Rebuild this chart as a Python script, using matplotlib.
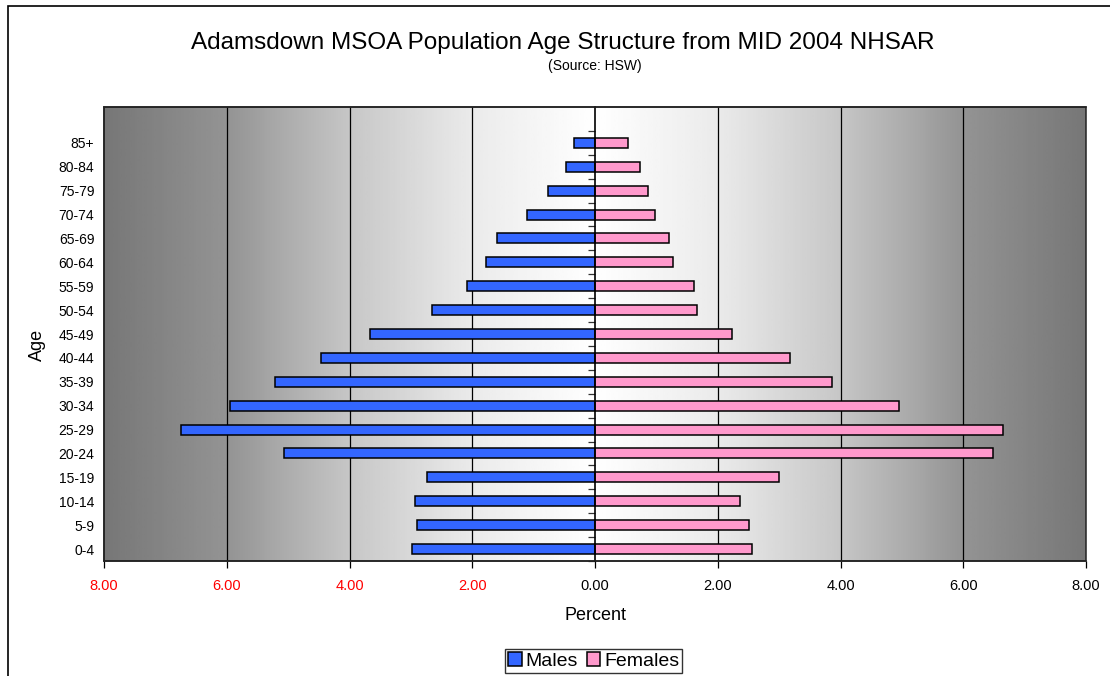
import matplotlib
matplotlib.use('Agg')
import matplotlib.pyplot as plt
from matplotlib.patches import Rectangle
import numpy as np

plt.rcParams['font.family'] = ['Liberation Sans', 'DejaVu Sans']

ages = ['0-4', '5-9', '10-14', '15-19', '20-24', '25-29', '30-34', '35-39', '40-44',
        '45-49', '50-54', '55-59', '60-64', '65-69', '70-74', '75-79', '80-84', '85+']
males = [2.98, 2.90, 2.94, 2.74, 5.07, 6.75, 5.95, 5.22, 4.46,
         3.67, 2.65, 2.08, 1.78, 1.59, 1.10, 0.76, 0.48, 0.35]
females = [2.55, 2.51, 2.37, 3.00, 6.48, 6.65, 4.96, 3.86, 3.17,
           2.24, 1.67, 1.61, 1.27, 1.21, 0.97, 0.87, 0.74, 0.54]
xticks = [-8, -6, -4, -2, 0, 2, 4, 6, 8]

fig = plt.figure(figsize=(11.1, 6.76), dpi=100)
ax = fig.add_axes([104 / 1110, 1 - 561 / 676, 982 / 1110, 454 / 676])

y = np.arange(len(ages))
top = len(ages) + 0.5

# grey background, dark at the edges, white in the middle
gx = np.linspace(-8, 8, 400)
shade = np.interp(np.abs(gx), [0, 2, 4, 6, 8], [1.0, 0.92, 0.78, 0.58, 0.467])
ax.imshow(shade[np.newaxis, :], extent=[-8, 8, -0.5, top], aspect='auto',
          cmap='gray', vmin=0, vmax=1, zorder=0, interpolation='bilinear')

for gv in xticks[1:-1]:
    if gv != 0:
        ax.axvline(gv, color='black', lw=0.9, zorder=1)

ax.barh(y, [-m for m in males], height=0.42, color='#3366FF', edgecolor='black',
        lw=1.1, zorder=3, label='Males')
ax.barh(y, females, height=0.42, color='#FF99CC', edgecolor='black',
        lw=1.1, zorder=3, label='Females')

ax.set_xlim(-8, 8)
ax.set_ylim(-0.5, top)

ax.set_xticks(xticks)
ax.set_xticklabels(['%.2f' % abs(v) for v in xticks], fontsize=10.5)
for lab, v in zip(ax.get_xticklabels(), xticks):
    if v < 0:
        lab.set_color('#FF0000')
ax.tick_params(axis='x', length=5, width=0.9, pad=8)

# y labels on the left, tick marks on the zero line
ax.set_yticks(y)
ax.set_yticklabels(ages, fontsize=7.5)
ax.set_yticks(np.arange(len(ages) + 1) - 0.5, minor=True)
ax.tick_params(axis='y', which='major', length=0, pad=7)
ax.tick_params(axis='y', which='minor', left=False, right=True, direction='in',
               length=5, width=0.9, color='#333333')
ax.spines['right'].set_position(('data', 0))
ax.spines['right'].set_linewidth(1.2)
ax.spines['right'].set_zorder(4)
for s in ['left', 'top', 'bottom']:
    ax.spines[s].set_color('#222222')
    ax.spines[s].set_linewidth(1.1)
ax.add_patch(Rectangle((0, 0), 1, 1, transform=ax.transAxes, fill=False,
                       edgecolor='#222222', lw=1.1, zorder=5, clip_on=False))

ax.set_xlabel('Percent', fontsize=13, labelpad=10)
fig.text(0.034, 0.49, 'Age', rotation=90, fontsize=13, ha='center', va='center')

fig.text(0.507, 0.937, 'Adamsdown MSOA Population Age Structure from MID 2004 NHSAR',
         fontsize=17.5, ha='center', va='center')
fig.text(0.536, 0.903, '(Source: HSW)', fontsize=10, ha='center', va='center')

leg = fig.legend(loc='center', bbox_to_anchor=(0.535, 0.022), ncol=2, fontsize=14,
                 frameon=True, fancybox=False, edgecolor='black', handlelength=0.7,
                 handleheight=0.7, handletextpad=0.2, columnspacing=0.45,
                 borderpad=0.15, borderaxespad=0)
leg.get_frame().set_linewidth(1.0)

# outer chart border
fig.add_artist(Rectangle((8 / 1110, -0.1), 1.2, 1.1 - 6 / 676, transform=fig.transFigure,
                         fill=False, edgecolor='black', lw=1.2))

fig.savefig('out.png', dpi=100)
